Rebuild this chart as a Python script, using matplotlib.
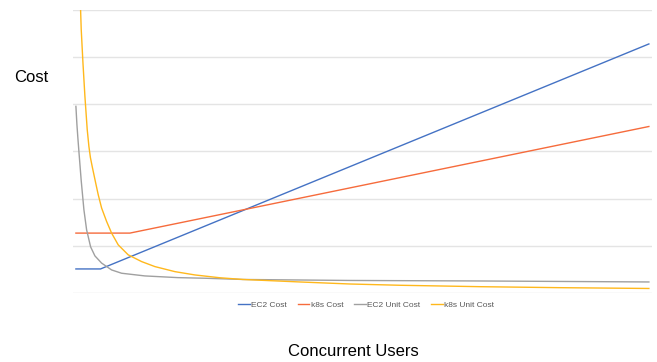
import matplotlib
matplotlib.use('Agg')
import matplotlib.pyplot as plt

plt.rcParams['font.family'] = ['Liberation Sans', 'DejaVu Sans']

# values (x: users 0-100, y: cost in gridline units)
ec2_cost_x = [0, 4.3, 100]
ec2_cost_y = [0.51, 0.51, 5.28]

k8s_cost_x = [0, 9.42, 100]
k8s_cost_y = [1.27, 1.27, 3.53]

ec2_unit_x = [0, 0.175, 0.349, 0.524, 0.925, 1.396, 1.867, 2.565, 3.316, 4.485,
              6.230, 7.976, 12.042, 17.801, 22.513, 29.145, 47.818, 70.506, 100]
ec2_unit_y = [3.957, 3.574, 3.277, 3.000, 2.383, 1.766, 1.340, 0.979, 0.787, 0.634,
              0.489, 0.419, 0.362, 0.326, 0.313, 0.287, 0.266, 0.255, 0.234]

k8s_unit_x = [0.785, 0.925, 1.222, 1.571, 1.972, 2.269, 2.531, 2.845, 3.438, 3.892,
              4.485, 5.358, 6.230, 7.382, 9.127, 11.466, 13.787, 17.277, 20.768,
              25.131, 29.145, 39.093, 47.818, 56.545, 70.506, 84.468, 100]
k8s_unit_y = [6.128, 5.596, 4.894, 4.170, 3.468, 3.106, 2.872, 2.681, 2.340, 2.085,
              1.802, 1.517, 1.270, 1.021, 0.809, 0.666, 0.560, 0.453, 0.383,
              0.323, 0.287, 0.234, 0.191, 0.164, 0.134, 0.113, 0.096]

labels = ['EC2 Cost', 'k8s Cost', 'EC2 Unit Cost', 'k8s Unit Cost']
colors = ['#4472C4', '#F66B3C', '#A0A0A0', '#FFB81C']

fig = plt.figure(figsize=(6.57, 3.62), dpi=100)
ax = fig.add_axes([0.111, 0.1906, 0.881, 0.7818])

lw = 1.0
series = [(ec2_cost_x, ec2_cost_y), (k8s_cost_x, k8s_cost_y),
          (ec2_unit_x, ec2_unit_y), (k8s_unit_x, k8s_unit_y)]
for (xs, ys), c, lab in zip(series, colors, labels):
    ax.plot(xs, ys, color=c, lw=lw, label=lab, solid_joinstyle='round')

ax.set_xlim(-0.52, 100.5)
ax.set_ylim(0, 6)
ax.set_yticks(range(0, 7))
ax.set_xticks([])
ax.yaxis.grid(True, color='#e4e4e4', lw=1.0)
ax.set_axisbelow(True)
ax.tick_params(left=False, labelleft=False)
for s in ax.spines.values():
    s.set_visible(False)

fig.text(14 / 657, 1 - 78 / 362, 'Cost', fontsize=12, va='center', ha='left')
fig.text(353 / 657, 1 - 352 / 362, 'Concurrent Users', fontsize=12,
         va='center', ha='center')

leg = fig.legend(loc='center', bbox_to_anchor=(0.557, 1 - 305 / 362), ncol=4,
                 frameon=False, fontsize=6, handlelength=1.4, handletextpad=0.15,
                 columnspacing=1.3)
for t in leg.get_texts():
    t.set_color('#595959')

fig.savefig('out.png', dpi=100)
